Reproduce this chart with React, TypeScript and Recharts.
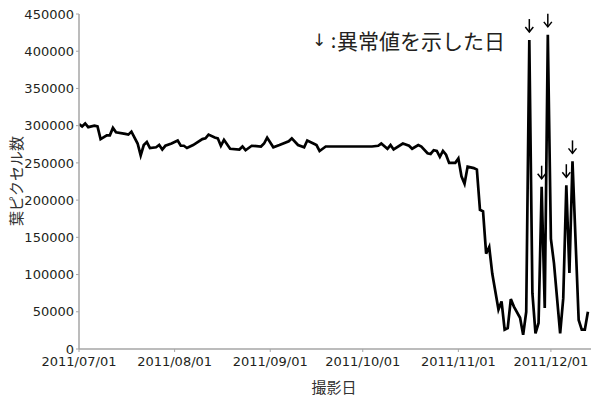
import React from 'react';
import { LineChart, Line, XAxis, YAxis, ReferenceDot } from 'recharts';

const dates: string[] = [
  '2011/07/01','2011/07/02','2011/07/03','2011/07/04','2011/07/06','2011/07/07','2011/07/08','2011/07/10','2011/07/11','2011/07/12','2011/07/13','2011/07/16','2011/07/17','2011/07/18','2011/07/20','2011/07/21','2011/07/22','2011/07/23','2011/07/24','2011/07/26','2011/07/27','2011/07/28','2011/07/29','2011/07/31',
  '2011/08/02','2011/08/03','2011/08/04','2011/08/05','2011/08/07','2011/08/10','2011/08/11','2011/08/12','2011/08/14','2011/08/15','2011/08/16','2011/08/17','2011/08/19','2011/08/22','2011/08/23','2011/08/24','2011/08/26','2011/08/29','2011/08/30','2011/08/31',
  '2011/09/02','2011/09/04','2011/09/07','2011/09/08','2011/09/10','2011/09/12','2011/09/13','2011/09/15','2011/09/16','2011/09/17','2011/09/19',
  '2011/10/04','2011/10/06','2011/10/07','2011/10/09','2011/10/10','2011/10/11','2011/10/14','2011/10/16','2011/10/17','2011/10/19','2011/10/20','2011/10/22','2011/10/23','2011/10/24','2011/10/25','2011/10/26','2011/10/27','2011/10/28','2011/10/29','2011/10/31',
  '2011/11/01','2011/11/02','2011/11/03','2011/11/04','2011/11/06','2011/11/07','2011/11/08','2011/11/09','2011/11/10','2011/11/11','2011/11/12','2011/11/14','2011/11/15','2011/11/16','2011/11/17','2011/11/18','2011/11/19','2011/11/21','2011/11/22','2011/11/23','2011/11/24','2011/11/25','2011/11/26','2011/11/27','2011/11/28','2011/11/29','2011/11/30',
  '2011/12/01','2011/12/02','2011/12/04','2011/12/05','2011/12/06','2011/12/07','2011/12/08','2011/12/10','2011/12/11','2011/12/12','2011/12/13',
];

const leafPixels: number[] = [
  302000,299000,303000,298000,300000,299000,282000,287000,287000,297000,291000,289000,288000,292000,276000,260000,274000,278000,270000,271000,274000,268000,273000,276000,
  280000,273000,273000,270000,274000,282000,283000,288000,284000,283000,273000,281000,269000,268000,272000,267000,273000,272000,276000,284000,
  271000,274000,279000,283000,274000,271000,280000,276000,274000,266000,272000,
  272000,273000,276000,269000,274000,268000,276000,273000,269000,274000,272000,263000,262000,267000,266000,258000,266000,261000,250000,250000,
  256000,232000,222000,245000,243000,241000,187000,185000,128000,137000,101000,53000,64000,26000,28000,67000,57000,42000,19000,50000,415000,75000,21000,35000,218000,55000,422000,
  148000,115000,21000,68000,220000,102000,252000,39000,26000,26000,50000,
];

const outlierDates: string[] = ['2011/11/24', '2011/11/28', '2011/11/30', '2011/12/06', '2011/12/08'];

const xTickLabels: string[] = ['2011/07/01', '2011/08/01', '2011/09/01', '2011/10/01', '2011/11/01', '2011/12/01'];
const yTicks: number[] = [0, 50000, 100000, 150000, 200000, 250000, 300000, 350000, 400000, 450000];

const startDate = '2011/07/01';
const endDate = '2011/12/14';

const dayOf = (s: string): number => {
  const [y, m, d] = s.split('/').map(Number);
  const [y0, m0, d0] = startDate.split('/').map(Number);
  return Math.round((Date.UTC(y, m - 1, d) - Date.UTC(y0, m0 - 1, d0)) / 86400000);
};

const data = dates.map((d, i) => ({ day: dayOf(d), value: leafPixels[i] }));
const xTicks = xTickLabels.map(dayOf);
const outliers = outlierDates.map((d) => ({ day: dayOf(d), value: leafPixels[dates.indexOf(d)] }));

const axisColor = '#a6a6a6';
const textColor = '#231f20';

const Arrow = (props: any) => {
  const { cx, cy } = props;
  if (cx == null || cy == null) return null;
  const tip = cy - 8;
  return (
    <g>
      <line x1={cx} y1={tip - 13} x2={cx} y2={tip} stroke="#000" strokeWidth={1.5} />
      <polyline
        points={`${cx - 4},${tip - 5} ${cx},${tip} ${cx + 4},${tip - 5}`}
        fill="none"
        stroke="#000"
        strokeWidth={1.5}
      />
    </g>
  );
};

const legendText: React.CSSProperties = {
  position: 'absolute', top: 40, transform: 'translateY(-50%)',
  fontFamily: '"Noto Sans CJK JP"', color: '#231f20', lineHeight: 1, whiteSpace: 'nowrap',
};

export default function App() {
  return (
    <div style={{ position: 'absolute', left: 0, top: 0, width: 591, height: 400, background: '#fff' }}>
      <LineChart
        width={591}
        height={400}
        data={data}
        margin={{ top: 14, right: 0, bottom: 21, left: 0 }}
      >
        <XAxis
          dataKey="day"
          type="number"
          domain={[0, dayOf(endDate)]}
          ticks={xTicks}
          interval={0}
          tickFormatter={(v: number) => xTickLabels[xTicks.indexOf(v)] ?? ''}
          height={30}
          tickSize={3}
          tickMargin={5}
          axisLine={{ stroke: axisColor, strokeWidth: 1.5 }}
          tickLine={{ stroke: axisColor }}
          tick={{ fontSize: 13, fill: textColor, fontFamily: 'DejaVu Sans' }}
          allowDataOverflow
        />
        <YAxis
          type="number"
          domain={[0, 450000]}
          ticks={yTicks}
          interval={0}
          width={79}
          tickSize={3}
          tickMargin={2}
          axisLine={{ stroke: axisColor, strokeWidth: 1.5 }}
          tickLine={{ stroke: axisColor }}
          tick={{ fontSize: 13, fill: textColor, fontFamily: 'DejaVu Sans' }}
          allowDataOverflow
        />
        <Line
          type="linear"
          dataKey="value"
          stroke="#000"
          strokeWidth={2.7}
          dot={false}
          activeDot={false}
          isAnimationActive={false}
        />
        {outliers.map((o) => (
          <ReferenceDot key={o.day} x={o.day} y={o.value} r={1} shape={Arrow} />
        ))}
      </LineChart>
      <div
        style={{
          position: 'absolute', left: 334, top: 386, transform: 'translate(-50%, -50%)',
          fontFamily: '"Noto Sans CJK JP"', fontSize: 15, color: '#333', lineHeight: 1, whiteSpace: 'nowrap',
        }}
      >
        撮影日
      </div>
      <div
        style={{
          position: 'absolute', left: 15, top: 181, transform: 'translate(-50%, -50%) rotate(-90deg)',
          fontFamily: '"Noto Sans CJK JP"', fontSize: 15, color: '#333', lineHeight: 1, whiteSpace: 'nowrap',
        }}
      >
        葉ピクセル数
      </div>
      <div style={{ ...legendText, left: 319, transform: 'translate(-50%, -50%)', fontFamily: '"DejaVu Sans"', fontSize: 17 }}>↓</div>
      <div style={{ ...legendText, left: 333.5, transform: 'translate(-50%, -50%)', fontSize: 20 }}>:</div>
      <div style={{ ...legendText, left: 337, fontSize: 21 }}>異常値を示した日</div>
    </div>
  );
}
